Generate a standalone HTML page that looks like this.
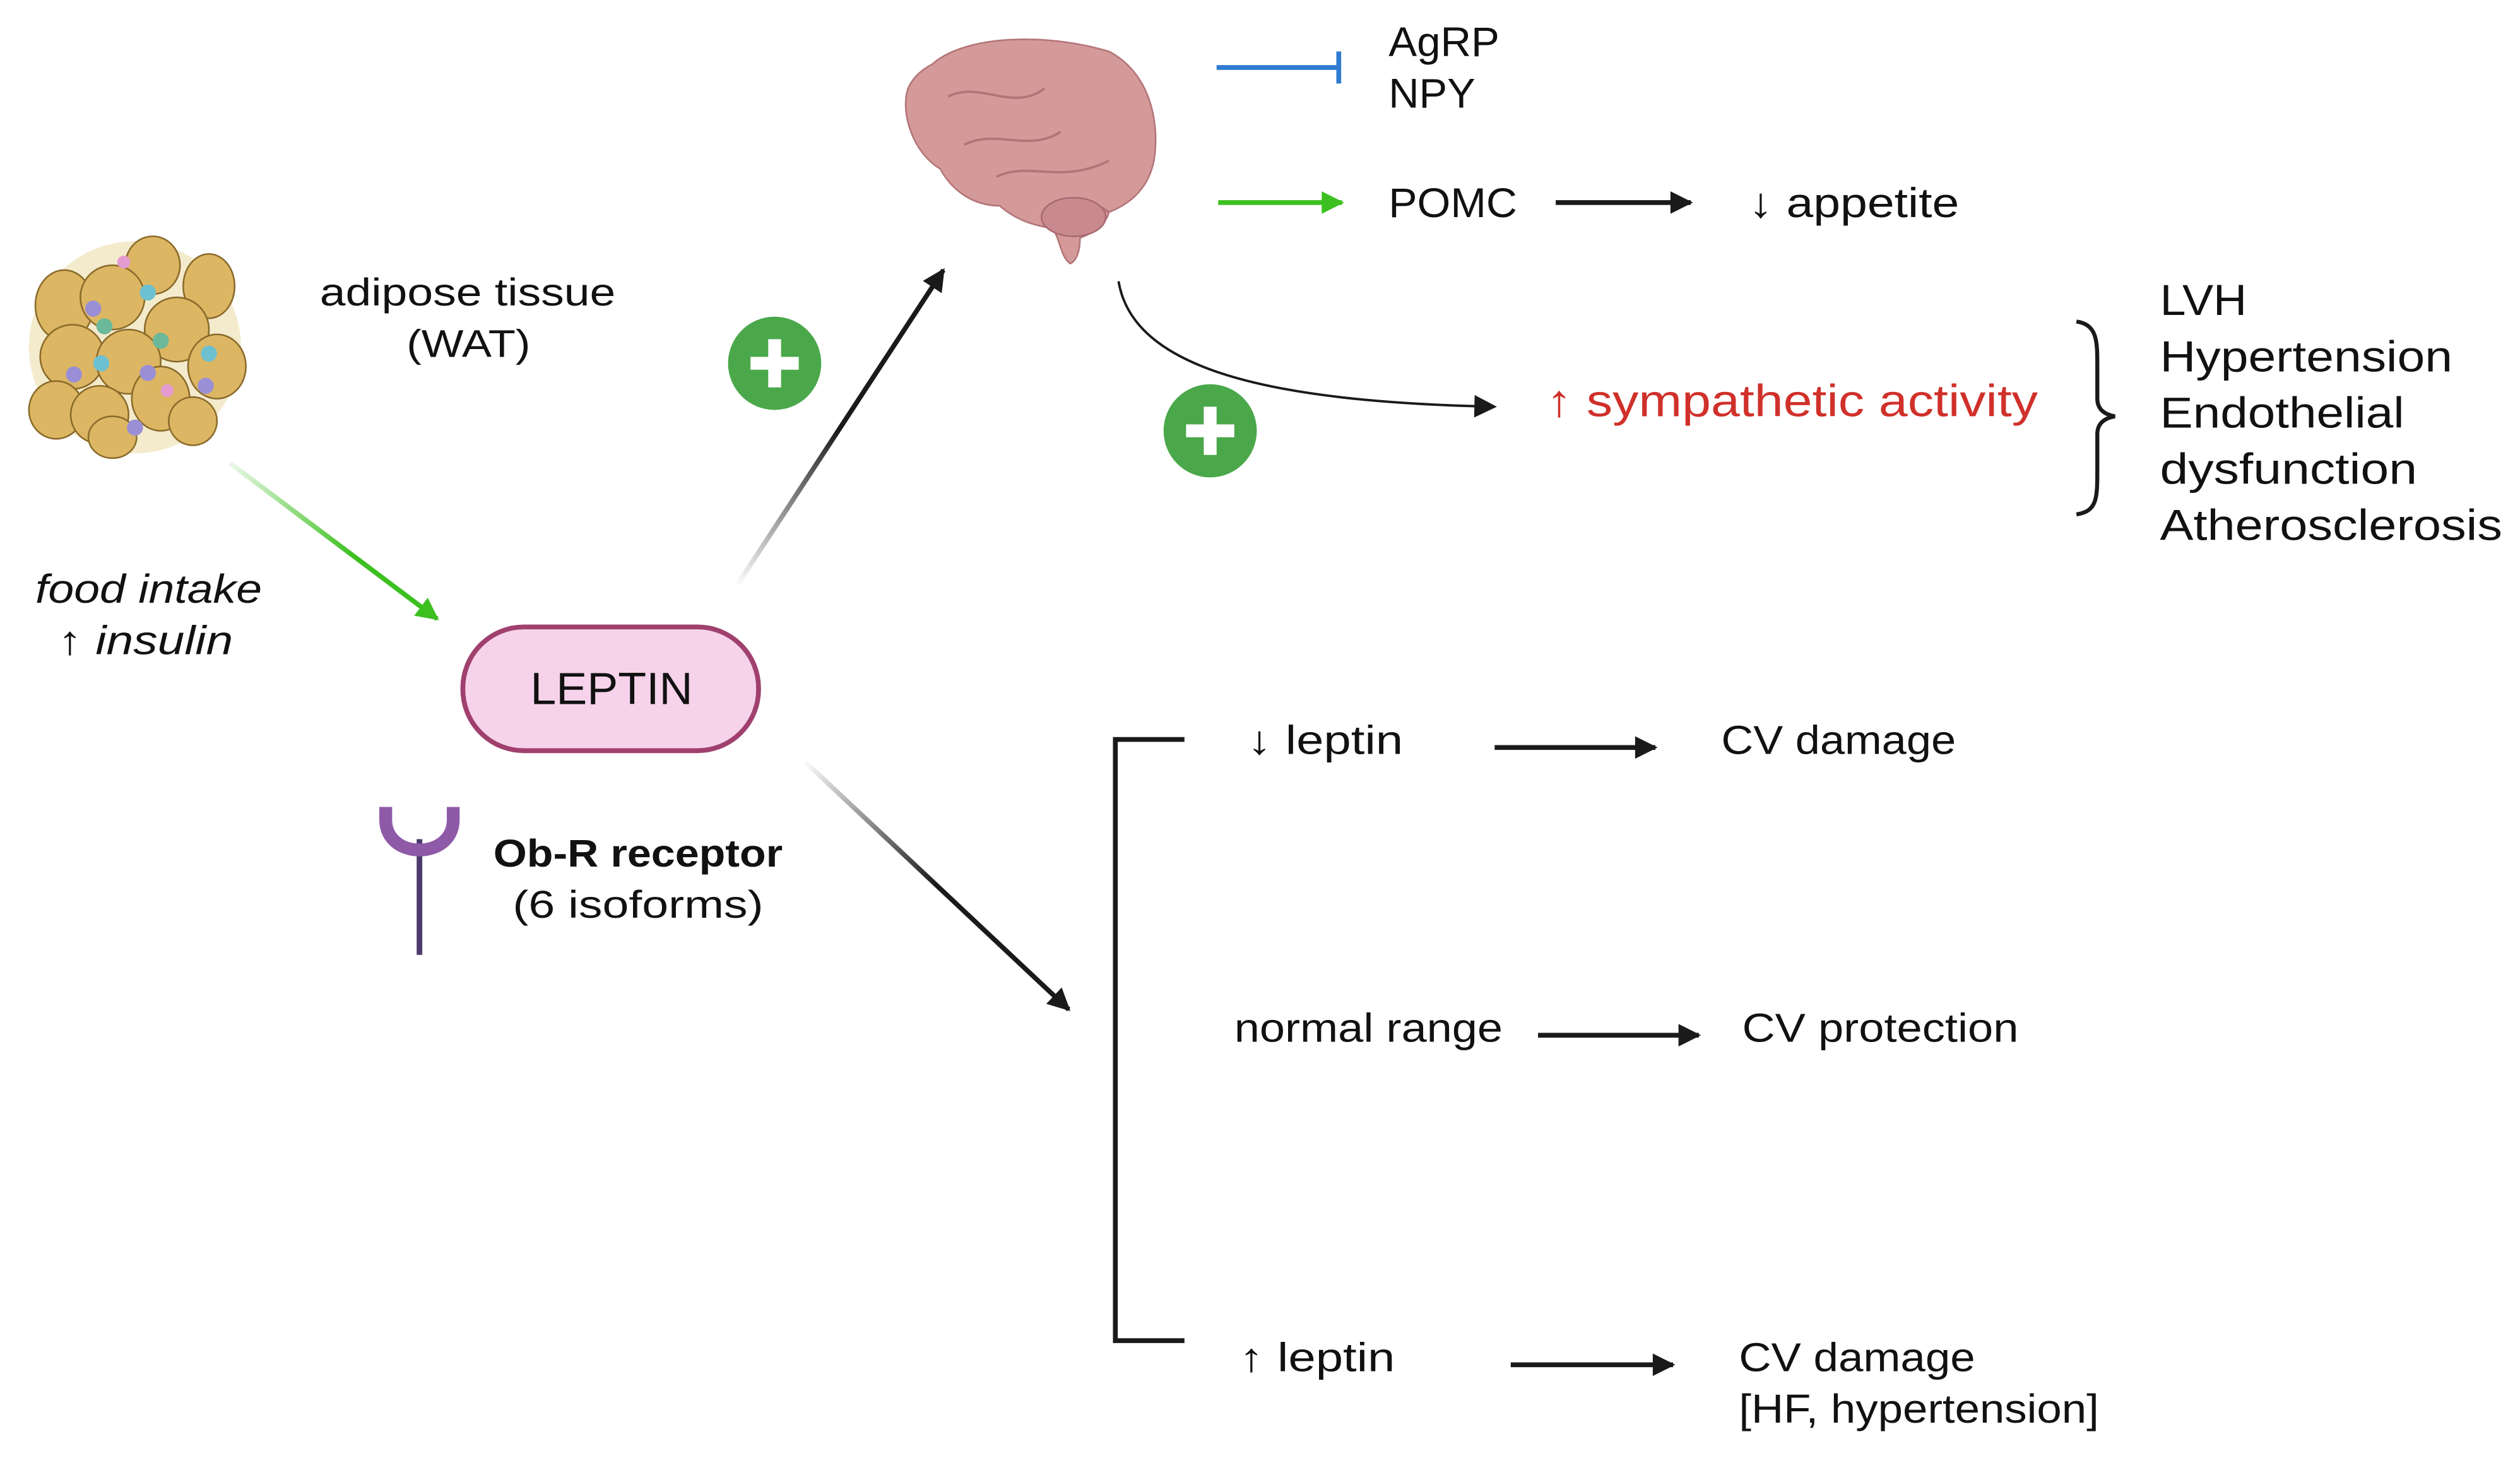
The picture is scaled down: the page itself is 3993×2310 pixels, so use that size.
<!DOCTYPE html>
<html><head><meta charset="utf-8"><style>
html,body{margin:0;padding:0;background:#fff;}
svg{display:block;}
text{font-family:"Liberation Sans",sans-serif;fill:#111;}
</style></head><body>
<svg width="3993" height="2310" viewBox="0 0 1568 907" preserveAspectRatio="none" xmlns="http://www.w3.org/2000/svg">
<defs>
<marker id="ah" viewBox="0 0 10 10" refX="9" refY="5" markerWidth="16" markerHeight="14" markerUnits="userSpaceOnUse" orient="auto"><path d="M0,0 L10,5 L0,10 z" fill="#1a1a1a"/></marker>
<marker id="ag" viewBox="0 0 10 10" refX="9" refY="5" markerWidth="16" markerHeight="14" markerUnits="userSpaceOnUse" orient="auto"><path d="M0,0 L10,5 L0,10 z" fill="#3cc020"/></marker>
<linearGradient id="gUp" x1="458" y1="365" x2="587" y2="168" gradientUnits="userSpaceOnUse"><stop offset="0" stop-color="#1a1a1a" stop-opacity="0"/><stop offset="0.5" stop-color="#1a1a1a"/></linearGradient>
<linearGradient id="gDn" x1="500" y1="473" x2="665" y2="628" gradientUnits="userSpaceOnUse"><stop offset="0" stop-color="#1a1a1a" stop-opacity="0"/><stop offset="0.5" stop-color="#1a1a1a"/></linearGradient>
<linearGradient id="gGr" x1="143" y1="288" x2="272" y2="385" gradientUnits="userSpaceOnUse"><stop offset="0" stop-color="#3cc020" stop-opacity="0.1"/><stop offset="0.6" stop-color="#3cc020"/></linearGradient>
</defs>

<!-- adipose -->
<g stroke="#8a6a2a" stroke-width="1">
<circle cx="84" cy="216" r="66" fill="#efe2b8" stroke="none" opacity="0.7"/>
<ellipse cx="40" cy="190" rx="18" ry="22" fill="#dcb663"/>
<ellipse cx="95" cy="165" rx="17" ry="18" fill="#dcb663"/>
<ellipse cx="130" cy="178" rx="16" ry="20" fill="#dcb663"/>
<ellipse cx="70" cy="185" rx="20" ry="20" fill="#dcb663"/>
<ellipse cx="110" cy="205" rx="20" ry="20" fill="#dcb663"/>
<ellipse cx="45" cy="222" rx="20" ry="20" fill="#dcb663"/>
<ellipse cx="80" cy="225" rx="20" ry="20" fill="#dcb663"/>
<ellipse cx="135" cy="228" rx="18" ry="20" fill="#dcb663"/>
<ellipse cx="35" cy="255" rx="17" ry="18" fill="#dcb663"/>
<ellipse cx="62" cy="258" rx="18" ry="18" fill="#dcb663"/>
<ellipse cx="100" cy="248" rx="18" ry="20" fill="#dcb663"/>
<ellipse cx="70" cy="272" rx="15" ry="13" fill="#dcb663"/>
<ellipse cx="120" cy="262" rx="15" ry="15" fill="#dcb663"/>
</g>
<g stroke="none">
<circle cx="58" cy="192" r="5" fill="#9a8fd6"/><circle cx="92" cy="182" r="5" fill="#6cc0d0"/>
<circle cx="65" cy="203" r="5" fill="#6cb89a"/><circle cx="100" cy="212" r="5" fill="#6cb89a"/>
<circle cx="63" cy="226" r="5" fill="#6cc0d0"/><circle cx="46" cy="233" r="5" fill="#9a8fd6"/>
<circle cx="92" cy="232" r="5" fill="#9a8fd6"/><circle cx="130" cy="220" r="5" fill="#6cc0d0"/>
<circle cx="104" cy="243" r="4" fill="#e39bd0"/><circle cx="128" cy="240" r="5" fill="#9a8fd6"/>
<circle cx="84" cy="266" r="5" fill="#9a8fd6"/><circle cx="77" cy="163" r="4" fill="#e39bd0"/>
</g>

<!-- brain -->
<path d="M580,40 C600,22 650,20 690,32 C715,45 722,75 718,100 C714,120 700,128 690,132 C688,140 680,145 672,148 C672,156 670,162 666,164 C660,160 660,150 655,142 C640,140 630,135 622,128 C605,128 592,118 585,105 C568,95 560,70 565,55 C568,48 574,43 580,40 Z" fill="#d49a9a" stroke="#b37478" stroke-width="1"/>
<path d="M590,60 C610,50 630,70 650,55 M600,90 C620,80 640,95 660,82 M620,110 C640,100 660,115 690,100 M650,130 C665,120 680,125 690,132" stroke="#b37478" stroke-width="1.5" fill="none"/>
<ellipse cx="668" cy="135" rx="20" ry="12" fill="#c88a8e" stroke="#a86a70" stroke-width="1"/>

<!-- top right -->
<line x1="757" y1="42" x2="833" y2="42" stroke="#2f7cd0" stroke-width="3"/>
<line x1="833" y1="32" x2="833" y2="52" stroke="#2f7cd0" stroke-width="3"/>
<text x="864" y="35" font-size="26" textLength="69" lengthAdjust="spacingAndGlyphs">AgRP</text>
<text x="864" y="67" font-size="26" textLength="54" lengthAdjust="spacingAndGlyphs">NPY</text>
<line x1="758" y1="126" x2="835" y2="126" stroke="#3cc020" stroke-width="3" marker-end="url(#ag)"/>
<text x="864" y="135" font-size="26" textLength="80" lengthAdjust="spacingAndGlyphs">POMC</text>
<line x1="968" y1="126" x2="1052" y2="126" stroke="#1a1a1a" stroke-width="3" marker-end="url(#ah)"/>
<text x="1088" y="135" font-size="26" textLength="131" lengthAdjust="spacingAndGlyphs">↓ appetite</text>

<path d="M696,175 C705,230 790,250 930,253" stroke="#1a1a1a" stroke-width="1.5" fill="none" marker-end="url(#ah)"/>
<text x="962" y="259" font-size="28" style="fill:#d0302a" textLength="306" lengthAdjust="spacingAndGlyphs">↑ sympathetic activity</text>
<path d="M1292,200 C1305,202 1305,212 1305,228 L1305,248 C1305,255 1310,258 1316,259 C1310,260 1305,263 1305,270 L1305,292 C1305,310 1305,318 1292,320" stroke="#1a1a1a" stroke-width="2.5" fill="none"/>
<g font-size="27"><text x="1344" y="196" textLength="54" lengthAdjust="spacingAndGlyphs">LVH</text><text x="1344" y="231" textLength="182" lengthAdjust="spacingAndGlyphs">Hypertension</text><text x="1344" y="266" textLength="152" lengthAdjust="spacingAndGlyphs">Endothelial</text><text x="1344" y="301" textLength="160" lengthAdjust="spacingAndGlyphs">dysfunction</text><text x="1344" y="336" textLength="213" lengthAdjust="spacingAndGlyphs">Atherosclerosis</text></g>

<!-- plus circles -->
<g><circle cx="482" cy="226" r="29" fill="#4aa84a"/><rect x="467" y="222" width="30" height="8" fill="#fff"/><rect x="478" y="211" width="8" height="30" fill="#fff"/></g>
<g><circle cx="753" cy="268" r="29" fill="#4aa84a"/><rect x="738" y="264" width="30" height="8" fill="#fff"/><rect x="749" y="253" width="8" height="30" fill="#fff"/></g>

<!-- left text -->
<text x="199" y="190" font-size="24" textLength="184" lengthAdjust="spacingAndGlyphs">adipose tissue</text>
<text x="253" y="222" font-size="24" textLength="77" lengthAdjust="spacingAndGlyphs">(WAT)</text>
<text x="22" y="375" font-size="25" font-style="italic" textLength="141" lengthAdjust="spacingAndGlyphs">food intake</text>
<text x="36" y="407" font-size="25" font-style="italic" textLength="109" lengthAdjust="spacingAndGlyphs">↑ insulin</text>

<line x1="143" y1="288" x2="272" y2="385" stroke="url(#gGr)" stroke-width="3" marker-end="url(#ag)"/>
<line x1="458" y1="365" x2="587" y2="168" stroke="url(#gUp)" stroke-width="3" marker-end="url(#ah)"/>
<line x1="500" y1="473" x2="665" y2="628" stroke="url(#gDn)" stroke-width="3" marker-end="url(#ah)"/>

<rect x="288" y="390" width="184" height="77" rx="38" fill="#f6d3ea" stroke="#a0406e" stroke-width="3"/>
<text x="330" y="438" font-size="28" textLength="101" lengthAdjust="spacingAndGlyphs">LEPTIN</text>

<!-- receptor -->
<line x1="261" y1="522" x2="261" y2="594" stroke="#4b3a6b" stroke-width="3.5"/>
<path d="M240,502 L240,510 C240,535 282,535 282,510 L282,502" stroke="#8e5aa8" stroke-width="8" fill="none"/>
<text x="307" y="539" font-size="24" font-weight="bold" textLength="180" lengthAdjust="spacingAndGlyphs">Ob-R receptor</text>
<text x="319" y="571" font-size="24" textLength="156" lengthAdjust="spacingAndGlyphs">(6 isoforms)</text>

<!-- bracket -->
<path d="M737,460 L694,460 L694,834 L737,834" stroke="#1a1a1a" stroke-width="3" fill="none"/>
<g font-size="25">
<text x="776" y="469" textLength="97" lengthAdjust="spacingAndGlyphs">↓ leptin</text><text x="1071" y="469" textLength="146" lengthAdjust="spacingAndGlyphs">CV damage</text>
<text x="768" y="648" textLength="167" lengthAdjust="spacingAndGlyphs">normal range</text><text x="1084" y="648" textLength="172" lengthAdjust="spacingAndGlyphs">CV protection</text>
<text x="771" y="853" textLength="97" lengthAdjust="spacingAndGlyphs">↑ leptin</text><text x="1082" y="853" textLength="147" lengthAdjust="spacingAndGlyphs">CV damage</text><text x="1082" y="885" textLength="224" lengthAdjust="spacingAndGlyphs">[HF, hypertension]</text>
</g>
<line x1="930" y1="465" x2="1030" y2="465" stroke="#1a1a1a" stroke-width="3" marker-end="url(#ah)"/>
<line x1="957" y1="644" x2="1057" y2="644" stroke="#1a1a1a" stroke-width="3" marker-end="url(#ah)"/>
<line x1="940" y1="849" x2="1041" y2="849" stroke="#1a1a1a" stroke-width="3" marker-end="url(#ah)"/>
</svg>
</body></html>
